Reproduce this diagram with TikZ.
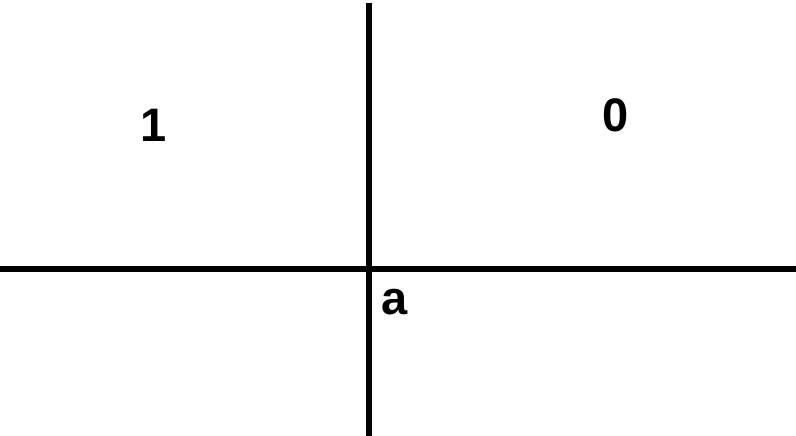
\documentclass[tikz,border=0pt]{standalone}
\usepackage{fontspec}
\setmainfont{Liberation Sans}
\usetikzlibrary{positioning}
\tikzset{
  axis/.style={line width=5.5pt,draw=black},
  lbl/.style={font=\fontsize{47}{47}\selectfont\bfseries,inner sep=0pt},
}
\begin{document}
\begin{tikzpicture}[x=1pt,y=-1pt]
\useasboundingbox (0,0) rectangle (796,436);
\coordinate (top) at (369,3);
\coordinate (bot) at (369,436);
\coordinate (lft) at (0,269);
\coordinate (rgt) at (796,269);
\draw[axis] (top) -- (bot);
\draw[axis] (lft) -- (rgt);
\node[lbl] (one) at (154,125) {1};
\node[lbl] (zero) at (616,115) {0};
\node[lbl] (a) at (395,302) {a};
\end{tikzpicture}
\end{document}
